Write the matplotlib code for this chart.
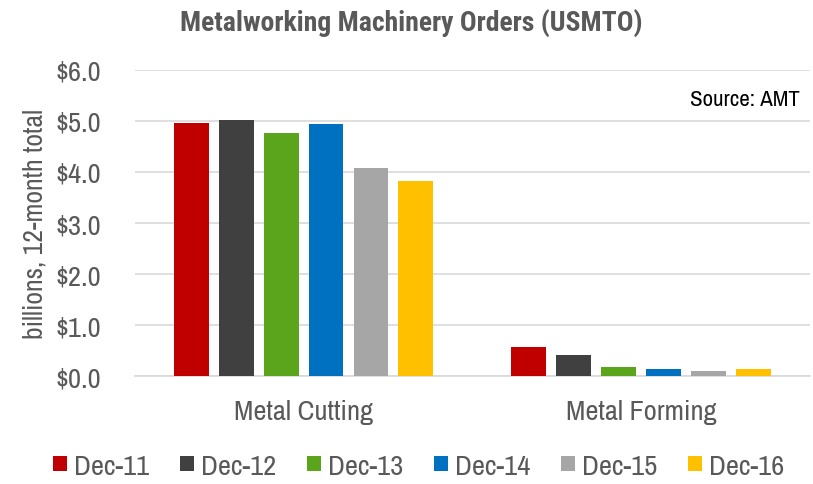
import matplotlib.pyplot as plt
from matplotlib import font_manager as fm
import numpy as np

# narrow sans fonts, close to Arial Narrow used in the original
available = set(f.name for f in fm.fontManager.ttflist)
body = [w for w in ['Archivo Narrow', 'Roboto Condensed', 'Liberation Sans'] if w in available]
bold = [w for w in ['Roboto Condensed', 'PT Sans Narrow', 'Liberation Sans'] if w in available]
plt.rcParams['font.family'] = body[:1] + ['DejaVu Sans']

# data
categories = ['Metal Cutting', 'Metal Forming']
series = ['Dec-11', 'Dec-12', 'Dec-13', 'Dec-14', 'Dec-15', 'Dec-16']
values = {
    'Dec-11': [4.96, 0.57],
    'Dec-12': [5.02, 0.41],
    'Dec-13': [4.76, 0.19],
    'Dec-14': [4.94, 0.14],
    'Dec-15': [4.08, 0.11],
    'Dec-16': [3.82, 0.14],
}
colors = ['#c00000', '#404040', '#5aa51c', '#0070c0', '#a6a6a6', '#ffc000']
yticks = [0, 1, 2, 3, 4, 5, 6]

fig = plt.figure(figsize=(8.13, 4.85), dpi=100)
ax = fig.add_axes([0.166, 0.222, 0.83, 0.632])

x = np.arange(len(categories))
step = 0.133
width = 0.103
for i, s in enumerate(series):
    off = (i - 2.5) * step
    ax.bar(x + off, values[s], width, color=colors[i], label=s, zorder=3)

ax.set_xlim(-0.5, 1.5)
ax.set_ylim(0, 6)
ax.set_yticks(yticks)
ax.set_yticklabels(['$%.1f' % v for v in yticks])
ax.set_xticks(x)
ax.set_xticklabels(categories)
ax.grid(axis='y', color='#d9d9d9', linewidth=1.2, zorder=0)
for sp in ['top', 'right', 'left']:
    ax.spines[sp].set_visible(False)
ax.spines['bottom'].set_color('#d9d9d9')
ax.spines['bottom'].set_linewidth(1.2)
ax.tick_params(length=0, labelsize=20.5, colors='#595959')
ax.tick_params(axis='y', pad=24)
ax.tick_params(axis='x', pad=16)
ax.set_ylabel('billions, 12-month total', fontsize=20, color='#595959', labelpad=6)

ax.text(0.985, 0.905, 'Source: AMT', transform=ax.transAxes, ha='right', va='center',
        fontsize=16.5, color='black')

fig.text(0.506, 0.952, 'Metalworking Machinery Orders (USMTO)', ha='center', va='center',
         fontsize=20, fontweight='bold', color='#595959', family=bold[:1] + ['DejaVu Sans'])

fig.legend(loc='center', bbox_to_anchor=(0.515, 0.037), ncol=6, frameon=False,
           fontsize=20.5, handlelength=0.47, handleheight=0.47, handletextpad=0.25,
           columnspacing=1.1, labelcolor='#595959')

fig.savefig('out.png', dpi=100)
